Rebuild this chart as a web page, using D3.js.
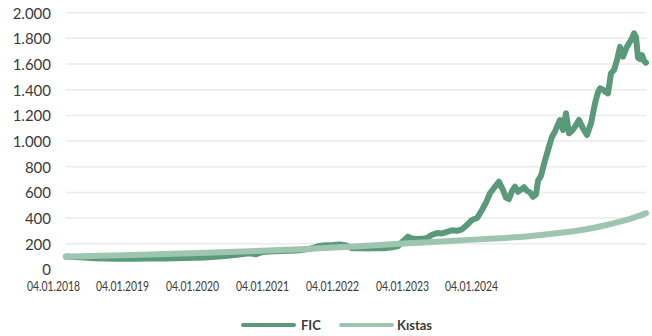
<!DOCTYPE html>
<html>
<head>
<meta charset="utf-8">
<script src="https://cdn.jsdelivr.net/npm/d3@7/dist/d3.min.js"></script>
<style>
  html, body { margin: 0; padding: 0; background: #ffffff; }
  svg { display: block; }
  text { font-family: Lato, "Open Sans", sans-serif; fill: #3a3a3a; }
</style>
</head>
<body>
<svg id="chart" width="652" height="336"></svg>
<script>
// Trading-day index of each FIC observation
const ficDay = [
  0, 18, 38, 58, 78, 98, 118, 138, 158, 178,
  198, 218, 238, 258, 278, 298, 318, 338, 358, 368,
  380, 392, 408, 428, 448, 468, 488, 504, 518, 534,
  548, 560, 572, 588, 604, 620, 636, 652, 664, 674,
  684, 692, 702, 712, 722, 732, 742, 752, 762, 772,
  782, 792, 802, 812, 822, 832, 840, 848, 858, 866,
  874, 880, 886, 892, 898, 904, 910, 916, 922, 928,
  934, 940, 944, 950, 958, 964, 972, 978, 982, 988,
  994, 1000, 1006, 1012, 1018, 1026, 1034, 1042, 1050, 1058,
  1064, 1068, 1074, 1078, 1084, 1090, 1096, 1102, 1108, 1114,
  1118, 1122, 1128, 1132, 1136, 1140, 1144, 1148, 1152, 1156,
  1160
];
// FIC indexed value (start = 100)
const fic = [
  100, 97, 92, 87, 84, 83, 84, 83, 84, 84,
  85, 86, 88, 90, 93, 98, 104, 112, 122, 126,
  118, 135, 140, 143, 146, 150, 160, 180, 188, 190,
  194, 186, 165, 166, 162, 166, 164, 172, 182, 220,
  255, 240, 236, 238, 244, 270, 283, 280, 292, 305,
  300, 312, 346, 385, 400, 463, 520, 593, 644, 683,
  618, 560, 548, 610, 644, 605, 620, 640, 612, 600,
  566, 585, 690, 730, 850, 930, 1034, 1075, 1112, 1164,
  1086, 1216, 1060, 1080, 1112, 1164, 1099, 1047, 1138, 1294,
  1380, 1411, 1400, 1385, 1372, 1528, 1553, 1631, 1734, 1657,
  1700, 1734, 1774, 1800, 1839, 1810, 1650, 1640, 1670, 1625,
  1610
];
// Benchmark (Kıstas) indexed value
const kistasDay = [0, 68, 168, 268, 368, 468, 568, 668, 768, 868, 908, 968, 1028, 1068, 1108, 1128, 1148, 1160];
const kistas    = [99, 106, 116, 127, 142, 157, 176, 200, 222, 243, 253, 276, 305, 334, 372, 394, 420, 438];

// Axis labels
const tickDay = [-26, 112, 252, 392, 532, 672, 810];
const tickLabels = ["04.01.2018", "04.01.2019", "04.01.2020", "04.01.2021", "04.01.2022", "04.01.2023", "04.01.2024"];
const yTicks = [0, 200, 400, 600, 800, 1000, 1200, 1400, 1600, 1800, 2000];

const seriesNames = ["FIC", "Kıstas"];
const colors = { "FIC": "#5b997b", "Kıstas": "#9dc5b0" };

const svg = d3.select("#chart");
svg.append("rect").attr("width", 652).attr("height", 336).attr("fill", "#ffffff");

const x = d3.scaleLinear().domain([0, 1160]).range([66, 646]);
const y = d3.scaleLinear().domain([0, 2000]).range([269.4, 12.7]);

const trFormat = d3.formatLocale({ decimal: ",", thousands: ".", grouping: [3], currency: ["", ""] }).format(",d");

// Horizontal gridlines
svg.append("g")
  .selectAll("line")
  .data(yTicks.filter(d => d > 0))
  .join("line")
  .attr("x1", x(0)).attr("x2", x(1160))
  .attr("y1", d => y(d)).attr("y2", d => y(d))
  .attr("stroke", "#ebebeb")
  .attr("stroke-width", 1.5);

// Y axis labels
const yAxis = d3.axisLeft(y).tickValues(yTicks).tickFormat(trFormat).tickSize(0).tickPadding(0);
const gy = svg.append("g").attr("transform", "translate(51,0)").call(yAxis);
gy.select(".domain").remove();
gy.selectAll("text")
  .attr("font-size", 15)
  .attr("font-family", "Lato, sans-serif")
  .attr("fill", "#3a3a3a")
  .attr("dy", "0.36em");

// X axis labels
const xAxis = d3.axisBottom(x).tickValues(tickDay).tickFormat((d, i) => tickLabels[i]).tickSize(0).tickPadding(0);
const gx = svg.append("g").attr("transform", "translate(0,281)").call(xAxis);
gx.select(".domain").remove();
gx.selectAll("text")
  .attr("font-size", 14)
  .attr("font-family", "Lato, sans-serif")
  .attr("fill", "#3a3a3a")
  .attr("dy", "0.72em")
  .attr("textLength", 53)
  .attr("lengthAdjust", "spacingAndGlyphs");

// Lines
const ficLine = d3.line().x((d, i) => x(ficDay[i])).y(d => y(d)).curve(d3.curveLinear);
const kistasLine = d3.line().x((d, i) => x(kistasDay[i])).y(d => y(d)).curve(d3.curveMonotoneX);

svg.append("path")
  .datum(fic)
  .attr("d", ficLine)
  .attr("fill", "none")
  .attr("stroke", colors["FIC"])
  .attr("stroke-width", 6)
  .attr("stroke-linejoin", "round")
  .attr("stroke-linecap", "round");

svg.append("path")
  .datum(kistas)
  .attr("d", kistasLine)
  .attr("fill", "none")
  .attr("stroke", colors["Kıstas"])
  .attr("stroke-width", 6)
  .attr("stroke-linejoin", "round")
  .attr("stroke-linecap", "round");

// Legend
const legendItems = [
  { name: seriesNames[0], x1: 243, x2: 294, tx: 301 },
  { name: seriesNames[1], x1: 341, x2: 392, tx: 397 }
];
const lg = svg.append("g");
legendItems.forEach(it => {
  lg.append("line")
    .attr("x1", it.x1).attr("x2", it.x2)
    .attr("y1", 325).attr("y2", 325)
    .attr("stroke", colors[it.name])
    .attr("stroke-width", 4)
    .attr("stroke-linecap", "round");
  lg.append("text")
    .attr("x", it.tx).attr("y", 330)
    .attr("font-size", 13)
    .attr("font-weight", "bold")
    .attr("fill", "#2a2a2a")
    .text(it.name);
});
</script>
</body>
</html>
